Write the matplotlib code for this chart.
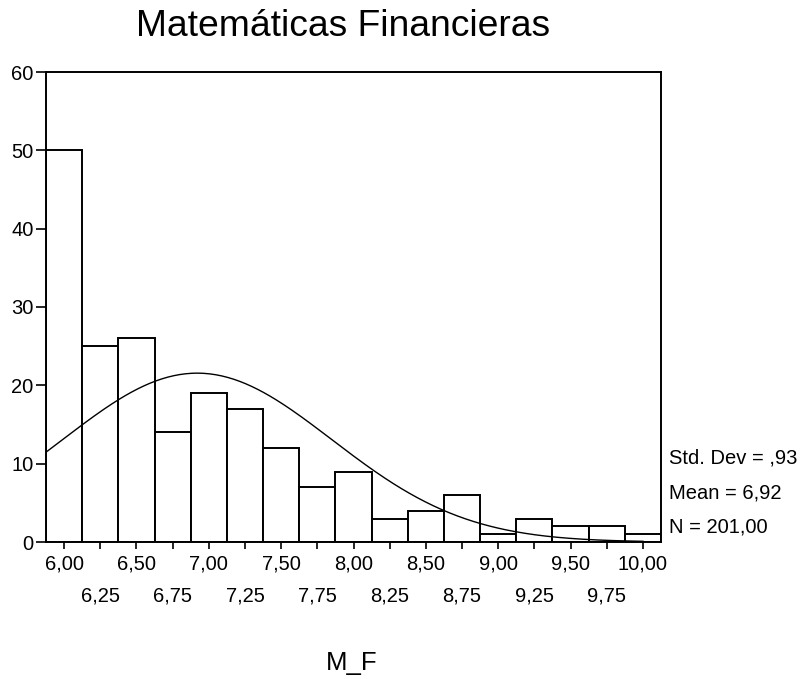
import numpy as np
import matplotlib
matplotlib.use("Agg")
import matplotlib.pyplot as plt
from matplotlib.ticker import FixedLocator, FixedFormatter

# Data
bin_centers = [6.00, 6.25, 6.50, 6.75, 7.00, 7.25, 7.50, 7.75, 8.00,
               8.25, 8.50, 8.75, 9.00, 9.25, 9.50, 9.75, 10.00]
counts = [50, 25, 26, 14, 19, 17, 12, 7, 9, 3, 4, 6, 1, 3, 2, 2, 1]
bin_width = 0.25
std_dev = 0.93
mean = 6.92
n_total = 201
major_ticks = [6.00, 6.50, 7.00, 7.50, 8.00, 8.50, 9.00, 9.50, 10.00]
major_labels = ["6,00", "6,50", "7,00", "7,50", "8,00", "8,50", "9,00", "9,50", "10,00"]
minor_ticks = [6.25, 6.75, 7.25, 7.75, 8.25, 8.75, 9.25, 9.75]
minor_labels = ["6,25", "6,75", "7,25", "7,75", "8,25", "8,75", "9,25", "9,75"]
y_ticks = [0, 10, 20, 30, 40, 50, 60]

plt.rcParams['font.family'] = ['Liberation Sans', 'DejaVu Sans']

fig = plt.figure(figsize=(8.04, 6.79), dpi=100)
ax = fig.add_axes([46/804, 1-542/679, (661-46)/804, (542-72)/679])

ax.bar(bin_centers, counts, width=bin_width, color='white', edgecolor='black',
       linewidth=1.4, align='center', zorder=2)

# fitted normal curve
xlo = bin_centers[0] - bin_width/2
xhi = bin_centers[-1] + bin_width/2
xs = np.linspace(xlo, bin_centers[-1], 300)
ys = n_total * bin_width / (std_dev * np.sqrt(2*np.pi)) * np.exp(-0.5*((xs-mean)/std_dev)**2)
ax.plot(xs, ys, color='black', linewidth=1.0, zorder=3)

ax.set_xlim(xlo, xhi)
ax.set_ylim(0, 60)

ax.xaxis.set_major_locator(FixedLocator(major_ticks))
ax.xaxis.set_major_formatter(FixedFormatter(major_labels))
ax.xaxis.set_minor_locator(FixedLocator(minor_ticks))
ax.xaxis.set_minor_formatter(FixedFormatter(minor_labels))
ax.set_yticks(y_ticks)
ax.set_yticklabels([str(v) for v in y_ticks])

ax.tick_params(axis='x', which='major', direction='out', length=5, width=1.2,
               labelsize=14.5, pad=4, colors='black')
ax.tick_params(axis='x', which='minor', direction='out', length=5, width=1.2,
               labelsize=14.5, pad=27, colors='black')
ax.tick_params(axis='y', direction='out', length=7, width=1.2,
               labelsize=14.5, pad=2, colors='black')

for s in ax.spines.values():
    s.set_linewidth(1.4)
    s.set_color('black')

fig.text(343.5/804, 1-26/679, "Matemáticas Financieras", ha='center', va='center',
         fontsize=26.8)
fig.text(352/804, 1-663/679, "M_F", ha='center', va='center', fontsize=18.5)

stats = [("Std. Dev = ,93", 458), ("Mean = 6,92", 493), ("N = 201,00", 527)]
for txt, yp in stats:
    fig.text(669/804, 1-yp/679, txt, ha='left', va='center', fontsize=14.5)

fig.savefig("out.png", dpi=100)
